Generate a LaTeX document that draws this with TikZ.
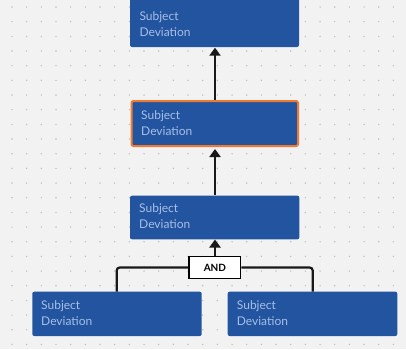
\documentclass[tikz,border=0pt]{standalone}
\usepackage{fontspec}
\setmainfont{Lato}
\usetikzlibrary{arrows.meta,calc}
\definecolor{bg}{HTML}{F2F2F2}
\definecolor{dotc}{HTML}{C0C0C0}
\definecolor{boxblue}{HTML}{2254A0}
\definecolor{txtblue}{HTML}{A8BFE6}
\definecolor{hlorange}{HTML}{F07A30}
\tikzset{
  bluebox/.style={draw=none, fill=boxblue, rounded corners=2pt, inner sep=0pt},
  hlbox/.style={draw=hlorange, line width=2pt, fill=boxblue, rounded corners=2pt, inner sep=0pt},
  lbl/.style={text=txtblue, font=\fontsize{12}{14}\selectfont, inner sep=0pt, anchor=base west},
  andbox/.style={draw=black, line width=1.4pt, fill=white, inner sep=0pt, font=\bfseries\fontsize{10}{11}\selectfont},
  conn/.style={line width=2.2pt, draw=black!90, -{Triangle[width=11pt,length=8pt]}},
  joinline/.style={line width=2.2pt, draw=black!90, rounded corners=3pt}
}
\begin{document}
\begin{tikzpicture}[x=1pt,y=-1pt]
\useasboundingbox (0,0) rectangle (406,349);
\clip (0,0) rectangle (406,349);
\fill[bg] (0,0) rectangle (406,349);
\foreach \i in {0,...,27}{
  \foreach \j in {0,...,23}{
    \fill[dotc] ({12+14.67*\i},{7+14.67*\j}) circle (0.8);
  }
}
% boxes
\node[bluebox, minimum width=169pt, minimum height=50pt] (top) at (214.5,22) {};
\node[hlbox, minimum width=166.5pt, minimum height=45pt] (mid) at (214.75,123.5) {};
\node[bluebox, minimum width=169.3pt, minimum height=43.6pt] (low) at (214.65,217.5) {};
\node[bluebox, minimum width=169.4pt, minimum height=44.3pt] (bl) at (117,313.85) {};
\node[bluebox, minimum width=169.6pt, minimum height=44.3pt] (br) at (312.5,313.85) {};
\node[andbox, minimum width=51.7pt, minimum height=21.6pt] (and) at (214.9,267.5) {AND};
% labels
\node[lbl] (t1) at (139.3,20.7) {Subject};
\node[lbl] (t2) at (139.3,36.7) {Deviation};
\node[lbl] (m1) at (141,119) {Subject};
\node[lbl] (m2) at (141,135) {Deviation};
\node[lbl] (l1) at (139,212.3) {Subject};
\node[lbl] (l2) at (139,228.3) {Deviation};
\node[lbl] (bl1) at (41,309) {Subject};
\node[lbl] (bl2) at (41,325) {Deviation};
\node[lbl] (br1) at (236.7,309) {Subject};
\node[lbl] (br2) at (236.7,325) {Deviation};
% connectors
\draw[conn] (mid.north -| 215,0) -- ([yshift=-0.5pt]top.south -| 215,0);
\draw[conn] ([yshift=1pt]low.north -| 215,0) -- ([yshift=-2pt]mid.south -| 215,0);
\draw[conn] (and.north -| 215,0) -- (low.south -| 215,0);
\draw[joinline] (bl.north -| 116.7,0) |- (and.west);
\draw[joinline] (br.north -| 312.7,0) |- (and.east);
\end{tikzpicture}
\end{document}
